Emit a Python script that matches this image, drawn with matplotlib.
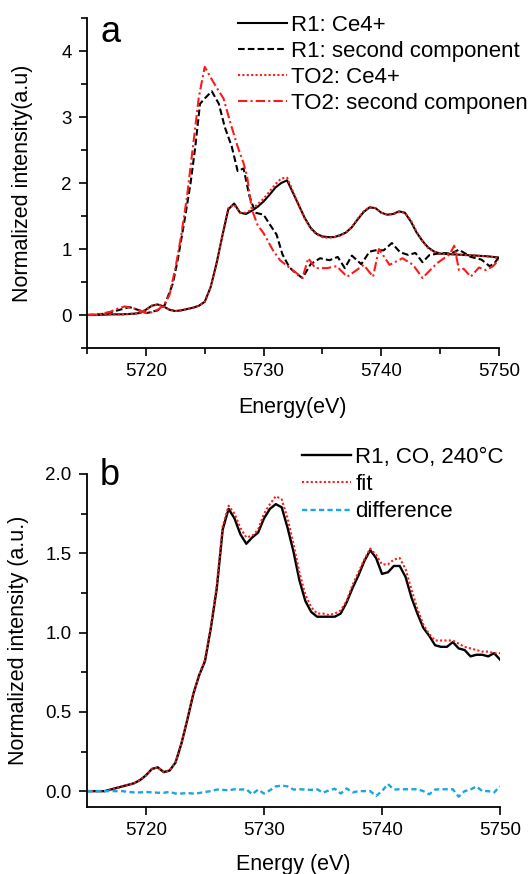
# -*- coding: utf-8 -*-
"""Ce L3-edge HERFD spectra: (a) components R1 / TO2, (b) R1 under CO at 240 C with fit."""
import numpy as np
import matplotlib; matplotlib.use('Agg')
import matplotlib.pyplot as plt
from matplotlib.ticker import MultipleLocator

plt.rcParams['font.family'] = ['Liberation Sans', 'DejaVu Sans']

# ---- panel a: R1 Ce4+ (solid black)
a_r1_ce_e = [5715, 5716, 5717, 5718, 5719, 5719.5, 5720, 5720.5, 5721, 5721.5, 5722, 5722.5,
             5723, 5723.5, 5724, 5724.5, 5725, 5725.5, 5726, 5726.5, 5727, 5727.5, 5728,
             5728.5, 5729, 5729.5, 5730, 5730.5, 5731, 5731.5, 5732, 5732.5, 5733, 5733.5,
             5734, 5734.5, 5735, 5735.5, 5736, 5736.5, 5737, 5737.5, 5738, 5738.5, 5739,
             5739.5, 5740, 5740.5, 5741, 5741.5, 5742, 5742.5, 5743, 5743.5, 5744, 5744.5,
             5745, 5746, 5747, 5748, 5749, 5750]
a_r1_ce = [0.0, 0.0, 0.01, 0.01, 0.02, 0.03, 0.08, 0.14, 0.16, 0.13, 0.08, 0.06,
           0.07, 0.09, 0.11, 0.14, 0.2, 0.42, 0.78, 1.2, 1.6, 1.69, 1.55,
           1.53, 1.58, 1.64, 1.72, 1.82, 1.93, 2.0, 2.04, 1.85, 1.66, 1.47,
           1.32, 1.23, 1.19, 1.18, 1.18, 1.21, 1.25, 1.33, 1.45, 1.56, 1.63,
           1.62, 1.55, 1.52, 1.53, 1.57, 1.55, 1.42, 1.25, 1.12, 1.02, 0.96,
           0.93, 0.92, 0.91, 0.9, 0.89, 0.87]

# ---- panel a: TO2 Ce4+ (red dotted)
a_to2_ce = [0.0, 0.0, 0.01, 0.01, 0.02, 0.03, 0.08, 0.14, 0.16, 0.13, 0.08, 0.06,
            0.07, 0.09, 0.11, 0.14, 0.2, 0.42, 0.78, 1.2, 1.62, 1.67, 1.55,
            1.55, 1.6, 1.68, 1.76, 1.87, 1.98, 2.07, 2.08, 1.87, 1.66, 1.46,
            1.31, 1.22, 1.18, 1.17, 1.18, 1.2, 1.25, 1.33, 1.46, 1.57, 1.64,
            1.62, 1.55, 1.52, 1.53, 1.56, 1.55, 1.44, 1.26, 1.12, 1.01, 0.96,
            0.93, 0.92, 0.91, 0.9, 0.89, 0.86]

# ---- panel a: R1 second component (black dashed)
a_r1_2nd_e = [5715, 5716, 5716.5, 5717.6, 5718.6, 5719.3, 5720.1, 5721, 5721.6, 5722.3,
              5722.7, 5723.3, 5723.8, 5724.2, 5724.6, 5725, 5725.6, 5726.2, 5726.7, 5727.3,
              5727.8, 5728.3, 5728.8, 5729.3, 5730, 5730.5, 5731.1, 5731.6, 5732.2, 5732.7,
              5733.3, 5734, 5734.8, 5735.6, 5736.3, 5736.9, 5737.5, 5738.3, 5739, 5739.5,
              5740.2, 5740.9, 5741.6, 5742.3, 5742.9, 5743.5, 5744.1, 5745.2, 5745.9,
              5746.6, 5747.6, 5748.5, 5749.2, 5749.6, 5750]
a_r1_2nd = [0.0, 0.01, 0.02, 0.07, 0.12, 0.08, 0.03, 0.07, 0.15, 0.48,
            0.83, 1.45, 2.0, 2.55, 3.2, 3.28, 3.39, 3.2, 2.85, 2.55,
            2.18, 2.22, 1.8, 1.55, 1.52, 1.38, 1.22, 0.92, 0.72, 0.64,
            0.56, 0.77, 0.86, 0.83, 0.88, 0.71, 0.9, 0.77, 0.96, 0.98,
            0.98, 1.09, 0.95, 0.91, 0.94, 0.8, 0.91, 0.94, 0.93,
            0.99, 0.88, 0.84, 0.74, 0.78, 0.88]

# ---- panel a: TO2 second component (red dash-dot)
a_to2_2nd_e = [5715, 5716, 5717, 5717.5, 5718.2, 5719, 5719.5, 5720, 5720.5, 5721, 5721.5,
               5722, 5722.5, 5723, 5723.5, 5724, 5724.5, 5725, 5725.5, 5726, 5726.6, 5727.2,
               5727.8, 5728.3, 5728.6, 5729, 5729.5, 5730, 5730.8, 5731.4, 5732.1, 5732.7,
               5733.3, 5733.8, 5734.4, 5735.4, 5736.2, 5737.1, 5737.9, 5738.5, 5739.3,
               5739.8, 5740.7, 5741.8, 5742.7, 5743.5, 5744.7, 5745.8, 5746.2, 5746.6,
               5747, 5747.6, 5748.3, 5748.9, 5749.5, 5750]
a_to2_2nd = [0.0, 0.01, 0.05, 0.09, 0.13, 0.1, 0.06, 0.03, 0.04, 0.08, 0.14,
             0.3, 0.7, 1.2, 1.8, 2.55, 3.3, 3.76, 3.6, 3.45, 3.28, 2.9,
             2.55, 2.3, 2.1, 1.6, 1.36, 1.24, 0.98, 0.83, 0.73, 0.65,
             0.56, 0.86, 0.71, 0.71, 0.74, 0.58, 0.68, 0.76, 0.58,
             1.0, 0.76, 0.86, 0.76, 0.56, 0.78, 0.92, 1.05, 0.68,
             0.7, 0.58, 0.72, 0.68, 0.74, 0.84]

# ---- panel b: R1, CO, 240 C / fit / difference, 0.5 eV grid
b_e = np.arange(5715, 5750.01, 0.5)
b_r1 = [0.0, 0.0, 0.0, 0.0, 0.01, 0.02, 0.03, 0.04, 0.05, 0.07, 0.1, 0.14, 0.15, 0.12,
        0.13, 0.18, 0.3, 0.45, 0.61, 0.73, 0.82, 1.03, 1.28, 1.65, 1.78, 1.72, 1.62, 1.56,
        1.6, 1.63, 1.72, 1.78, 1.81, 1.79, 1.66, 1.51, 1.33, 1.2, 1.13, 1.1, 1.1, 1.1,
        1.1, 1.12, 1.19, 1.28, 1.36, 1.45, 1.52, 1.47, 1.37, 1.38, 1.42, 1.42, 1.35, 1.22,
        1.12, 1.03, 0.98, 0.92, 0.91, 0.91, 0.94, 0.9, 0.89, 0.85, 0.86, 0.86, 0.85, 0.87, 0.83]
b_fit = [0.0, 0.0, 0.0, 0.0, 0.01, 0.02, 0.03, 0.04, 0.05, 0.07, 0.1, 0.14, 0.15, 0.12,
         0.13, 0.18, 0.3, 0.45, 0.61, 0.73, 0.83, 1.04, 1.3, 1.67, 1.8, 1.75, 1.66, 1.6,
         1.61, 1.65, 1.75, 1.81, 1.86, 1.84, 1.72, 1.56, 1.38, 1.24, 1.16, 1.12, 1.12, 1.11,
         1.12, 1.14, 1.2, 1.3, 1.38, 1.46, 1.53, 1.49, 1.43, 1.43, 1.46, 1.47, 1.4, 1.27,
         1.15, 1.05, 0.99, 0.95, 0.95, 0.95, 0.95, 0.93, 0.91, 0.9, 0.89, 0.88, 0.88, 0.87, 0.87]
b_diff = [0.0, 0.0, 0.0, 0.0, 0.0, 0.0, 0.0, -0.005, -0.008, -0.008, -0.005, -0.008, -0.01, -0.01,
          -0.005, -0.015, -0.015, -0.012, -0.015, -0.012, -0.005, 0.0, 0.01, 0.008, 0.005, 0.012,
          0.01, 0.012, -0.02, 0.01, -0.015, 0.005, 0.03, 0.035, 0.03, 0.01, 0.012, 0.01, 0.008,
          0.012, -0.01, 0.005, 0.015, -0.015, 0.017, -0.008, 0.0, 0.0, 0.0, -0.03, 0.0, 0.045,
          0.01, 0.012, 0.012, 0.012, 0.012, 0.0, -0.02, 0.01, 0.012, 0.012, 0.012, -0.035, 0.0,
          0.01, 0.03, 0.0, 0.0, -0.008, 0.03]

RED = '#ff1a1a'
CYAN = '#1aa6e0'
LW = 1.5


def style_axes(ax):
    for s in ('top', 'right'):
        ax.spines[s].set_visible(False)
    for s in ('left', 'bottom'):
        ax.spines[s].set_linewidth(1.3)
    ax.tick_params(which='major', direction='out', length=6, width=1.2, labelsize=13.5, pad=5)
    ax.tick_params(which='minor', direction='out', length=4, width=1.2)


fig = plt.figure(figsize=(5.31, 8.74), dpi=100)

# ---------------- panel a
ax1 = fig.add_axes([87 / 531, 1 - 348 / 874, 412 / 531, 330 / 874])
ax1.plot(a_r1_ce_e, a_r1_ce, color='black', lw=LW, label='R1: Ce4+')
ax1.plot(a_r1_2nd_e, a_r1_2nd, color='black', lw=LW, dashes=(3.2, 1.5), label='R1: second component')
ax1.plot(a_r1_ce_e, a_to2_ce, color=RED, lw=LW, dashes=(1, 1.1), label='TO2: Ce4+')
ax1.plot(a_to2_2nd_e, a_to2_2nd, color=RED, lw=LW, dashes=(4.5, 1.5, 1, 1.5),
         label='TO2: second componen')
ax1.set_xlim(5715, 5750)
ax1.set_ylim(-0.5, 4.5)
ax1.xaxis.set_major_locator(MultipleLocator(10))
ax1.xaxis.set_minor_locator(MultipleLocator(5))
ax1.yaxis.set_major_locator(MultipleLocator(1))
ax1.yaxis.set_minor_locator(MultipleLocator(0.5))
style_axes(ax1)
ax1.set_xlabel('Energy(eV)', fontsize=15.5)
ax1.set_ylabel('Normalized intensity(a.u)', fontsize=15.5)
ax1.xaxis.set_label_coords(0.5, -0.15)
ax1.yaxis.set_label_coords(-0.13, 0.5)
fig.text(100 / 531, 1 - 42 / 874, 'a', fontsize=26, ha='left', va='baseline')
fig.legend(*ax1.get_legend_handles_labels(), loc='upper left',
           bbox_to_anchor=(238 / 531, 1 - 15 / 874), bbox_transform=fig.transFigure,
           frameon=False, fontsize=16, handlelength=2.2, handletextpad=0.2,
           labelspacing=0.22, borderpad=0, borderaxespad=0)

# ---------------- panel b
ax2 = fig.add_axes([87 / 531, 1 - 807 / 874, 413 / 531, 333 / 874])
ax2.plot(b_e, b_r1, color='black', lw=LW + 0.2, label='R1, CO, 240°C')
ax2.plot(b_e, b_fit, color=RED, lw=LW, dashes=(1, 1.1), label='fit')
ax2.plot(b_e, b_diff, color=CYAN, lw=LW + 0.2, dashes=(2.2, 1.4), label='difference')
ax2.set_xlim(5715, 5750)
ax2.set_ylim(-0.1, 2.0)
ax2.xaxis.set_major_locator(MultipleLocator(10))
ax2.yaxis.set_major_locator(MultipleLocator(0.5))
ax2.yaxis.set_minor_locator(MultipleLocator(0.25))
ax2.yaxis.set_major_formatter(plt.FormatStrFormatter('%.1f'))
style_axes(ax2)
ax2.set_xlabel('Energy (eV)', fontsize=15.5)
ax2.set_ylabel('Normalized intensity (a.u.)', fontsize=15.5)
ax2.xaxis.set_label_coords(0.5, -0.14)
ax2.yaxis.set_label_coords(-0.14, 0.5)
fig.text(100 / 531, 1 - 485 / 874, 'b', fontsize=26, ha='left', va='baseline')
fig.legend(*ax2.get_legend_handles_labels(), loc='upper left',
           bbox_to_anchor=(302 / 531, 1 - 447 / 874), bbox_transform=fig.transFigure,
           frameon=False, fontsize=16, handlelength=2.2, handletextpad=0.2,
           labelspacing=0.28, borderpad=0, borderaxespad=0)

fig.savefig('out.png', dpi=100)
